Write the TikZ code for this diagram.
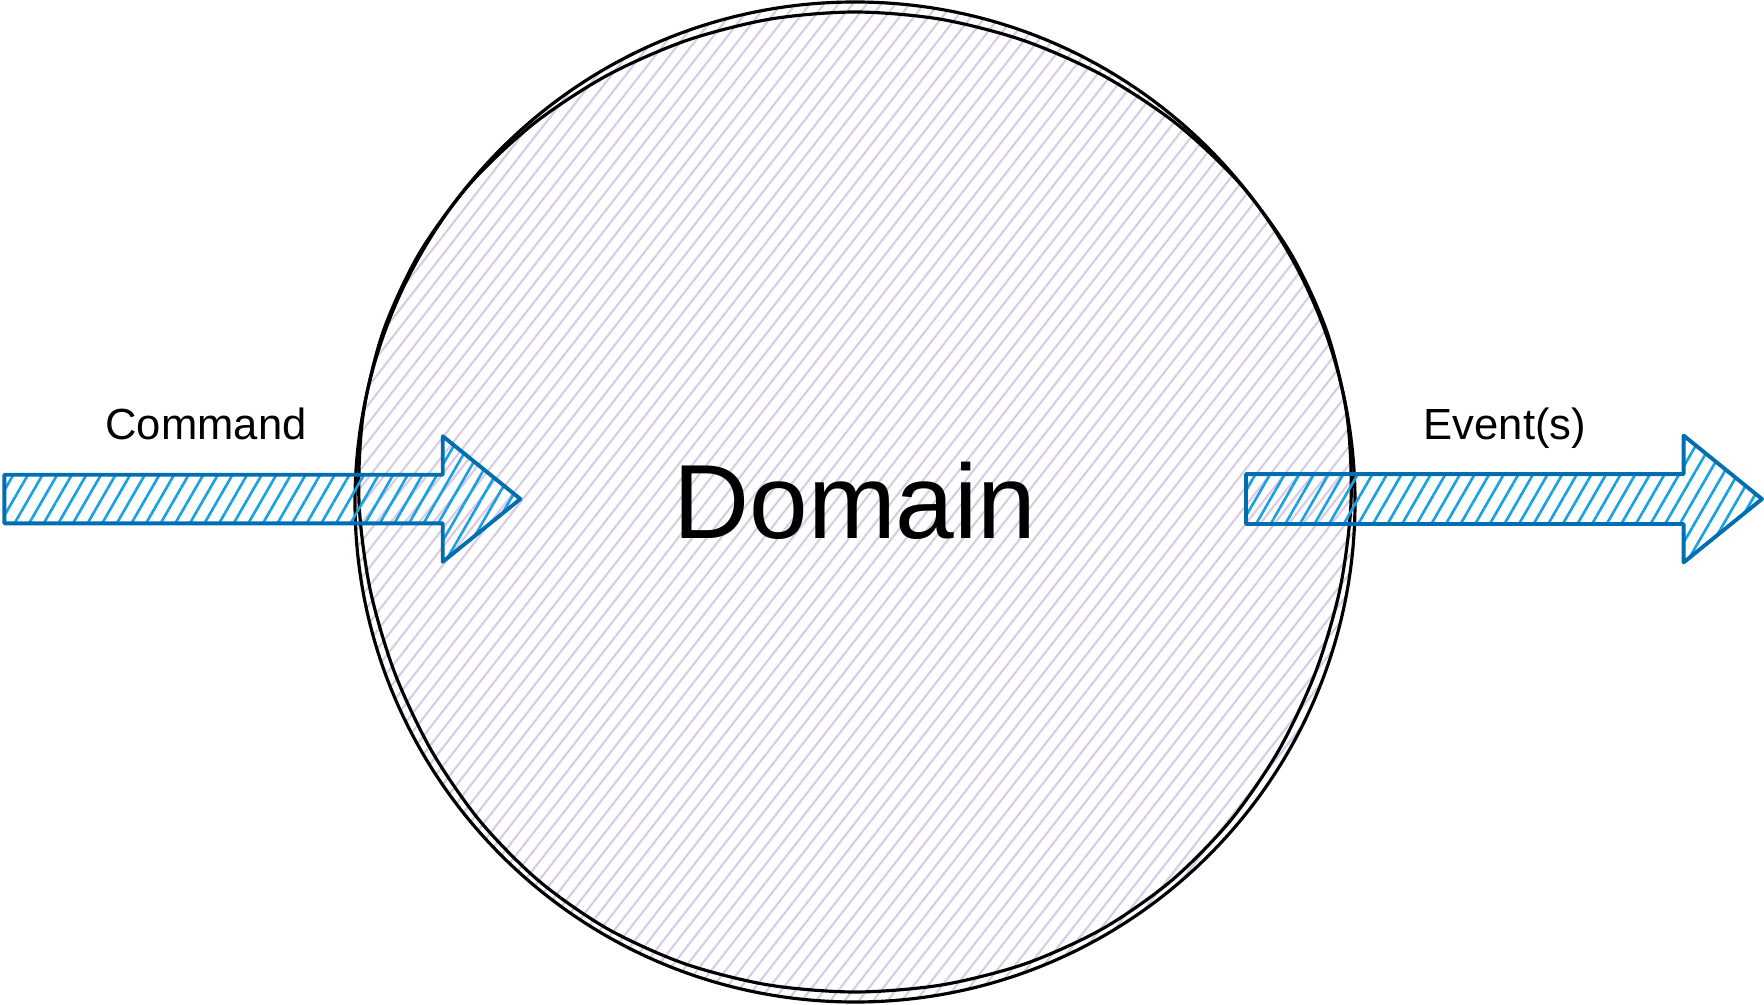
\documentclass[tikz,border=0pt]{standalone}
\usepackage{fontspec}
\setmainfont{Liberation Sans}
\usepackage{tikz}
\usetikzlibrary{
	arrows.meta,
	calc,
	patterns.meta,
	positioning,
	shapes.arrows,
	shapes.geometric,
}
\definecolor{arrowline}{HTML}{006EAF}
\definecolor{arrowhatch}{HTML}{1BA1E2}
\definecolor{domhatch}{HTML}{D9CBE3}
\tikzset{domain node/.style={
	draw,
	circle,
	inner sep=0mm,
	minimum size=10cm,
	line width=0.9pt,
	pattern={Lines[angle=52,distance=3.2pt,line width=0.6pt]},
	pattern color=domhatch,
	font=\fontsize{30}{36}\selectfont,
},
block arrow/.style={
	single arrow,
	anchor=west,
	draw=arrowline,
	line width=1.1pt,
	line join=round,
	pattern={Lines[angle=60,distance=3.6pt,line width=0.75pt]},
	pattern color=arrowhatch,
	inner sep=0mm,
	text height=0.46cm,
	text depth=0cm,
	minimum height=5.16cm,
	single arrow tip angle=78,
	single arrow head extend=0.385cm,
},
flow label/.style={
	anchor=base,
	inner sep=0mm,
	font=\fontsize{12.4}{15}\selectfont,
}}

\begin{document}
\begin{tikzpicture}
\useasboundingbox (0,0) rectangle (17.64,10.04);

\node[domain node](dom) at(8.55,5.02) {};
\draw[line width=0.9pt] plot[smooth cycle, samples=36, domain=0:350]
	({8.55+(4.96+0.07*sin(3*\x))*cos(\x)}, {5.02+(4.95+0.05*cos(2*\x))*sin(\x)});
\node[anchor=base, inner sep=0mm, font=\fontsize{30}{36}\selectfont](domtext) at(8.55,4.66) {Domain};

\node[block arrow](cmd) at(0.03,5.05) {};
\node[block arrow](evt) at(12.44,5.05) {};

\node[flow label](cmdtext) at(2.06,5.65) {Command};
\node[flow label](evttext) at(15.05,5.65) {Event(s)};
\end{tikzpicture}
\end{document}
